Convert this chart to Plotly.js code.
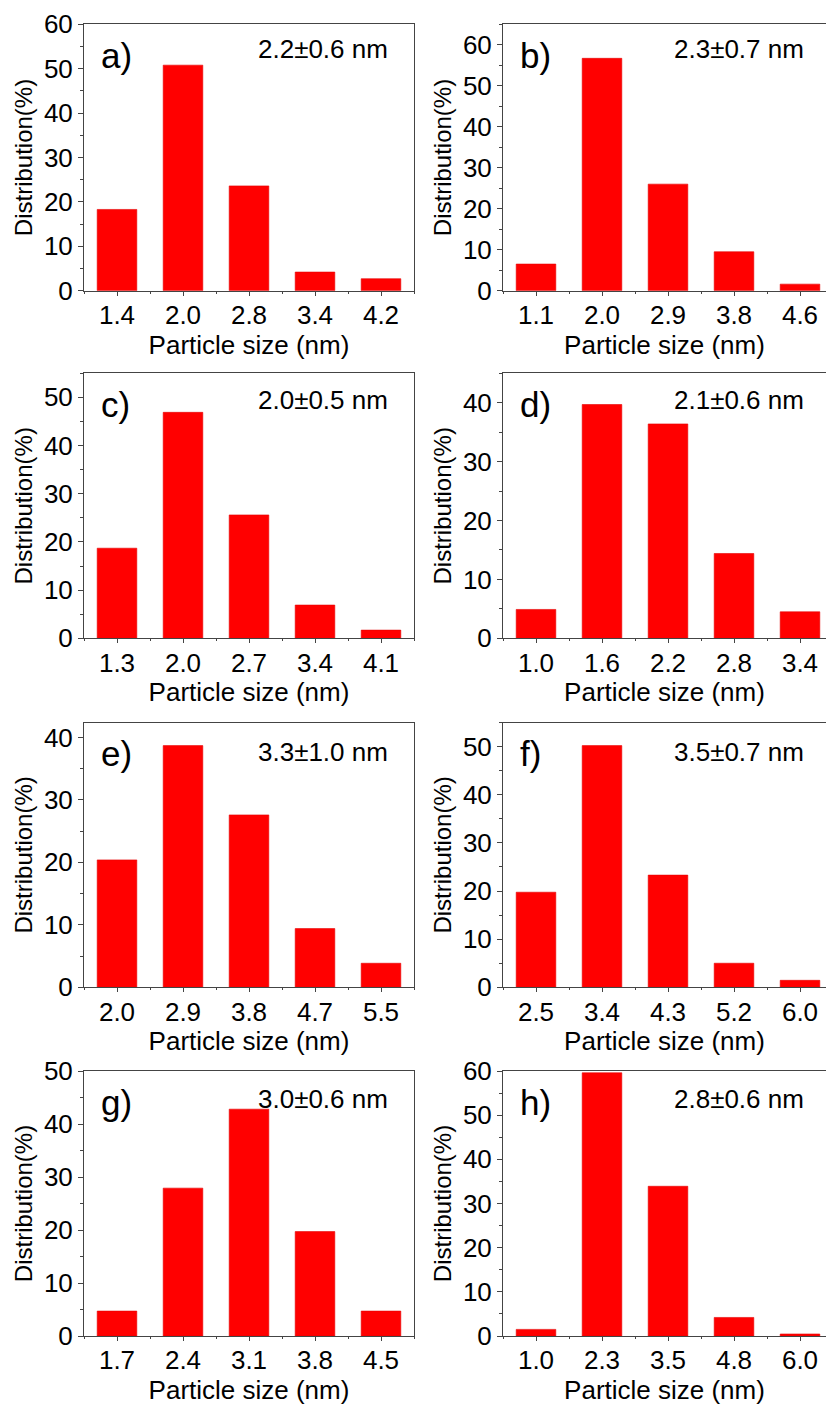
<!DOCTYPE html>
<html>
<head>
<meta charset="utf-8">
<script src="https://cdn.plot.ly/plotly-3.0.1.min.js"></script>
<style>html,body{margin:0;padding:0;background:#fff;}#chart{width:826px;height:1407px;}</style>
</head>
<body>
<div id="chart"></div>
<script>
// ---- data ----
const catsA = ['1.4','2.0','2.8','3.4','4.2'];
const valsA = [18.3, 50.8, 23.6, 4.2, 2.7];
const catsB = ['1.1','2.0','2.9','3.8','4.6'];
const valsB = [6.5, 56.7, 26.0, 9.5, 1.6];
const catsC = ['1.3','2.0','2.7','3.4','4.1'];
const valsC = [18.7, 46.9, 25.6, 6.9, 1.7];
const catsD = ['1.0','1.6','2.2','2.8','3.4'];
const valsD = [4.9, 39.7, 36.4, 14.4, 4.5];
const catsE = ['2.0','2.9','3.8','4.7','5.5'];
const valsE = [20.4, 38.7, 27.6, 9.4, 3.85];
const catsF = ['2.5','3.4','4.3','5.2','6.0'];
const valsF = [19.75, 50.2, 23.3, 5.0, 1.45];
const catsG = ['1.7','2.4','3.1','3.8','4.5'];
const valsG = [4.7, 27.9, 42.8, 19.7, 4.7];
const catsH = ['1.0','2.3','3.5','4.8','6.0'];
const valsH = [1.5, 59.6, 33.9, 4.2, 0.45];

const panelLabels = ['a)','b)','c)','d)','e)','f)','g)','h)'];
const sizeLabels = ['2.2\u00B10.6 nm','2.3\u00B10.7 nm','2.0\u00B10.5 nm','2.1\u00B10.6 nm',
                    '3.3\u00B11.0 nm','3.5\u00B10.7 nm','3.0\u00B10.6 nm','2.8\u00B10.6 nm'];
const yMax = [60, 65, 55, 45, 42.4, 55, 50, 60];
const xTitle = 'Particle size (nm)';
const yTitle = 'Distribution(%)';

const panels = [
  [catsA, valsA], [catsB, valsB], [catsC, valsC], [catsD, valsD],
  [catsE, valsE], [catsF, valsF], [catsG, valsG], [catsH, valsH]
];

// ---- layout geometry (pixels) ----
const W = 826, H = 1407;
const cols = [[84, 414], [503, 826]];
const rows = [[24.3, 290.7], [373.3, 638.3], [722.5, 987.3], [1071, 1336]];
const valOffset = [24.5, 24.5, 26.7, 26.7, 29.2, 29.4, 27.7, 28];

const FONT = 'Liberation Sans, Arial, sans-serif';
const AX = '#444';

const traces = [];
const layout = {
  width: W, height: H,
  margin: {l: 0, r: 0, t: 0, b: 0},
  paper_bgcolor: '#fff', plot_bgcolor: '#fff',
  showlegend: false,
  font: {family: FONT, color: '#000'},
  annotations: []
};

panels.forEach((p, i) => {
  const [cats, vals] = p;
  const n = i + 1;
  const col = i % 2, row = Math.floor(i / 2);
  const [x0, x1] = cols[col];
  const [y0, y1] = rows[row];
  const idx = cats.map((_, k) => k);
  const xs = n === 1 ? '' : String(n);
  const slotPx = 66;
  const xRange = col === 0 ? [-0.5, 4.5] : [-0.5, -0.5 + (x1 - x0) / slotPx];

  traces.push({
    type: 'bar', x: idx, y: vals,
    xaxis: 'x' + xs, yaxis: 'y' + xs,
    width: 0.6,
    marker: {color: '#ff0000', line: {color: '#e60000', width: 0.6}},
    hoverinfo: 'skip'
  });

  layout['xaxis' + xs] = {
    domain: [x0 / W, x1 / W],
    anchor: 'y' + xs,
    range: xRange,
    tickmode: 'array', tickvals: idx, ticktext: cats,
    ticks: 'outside', ticklen: 4, tickwidth: 1, tickcolor: AX,
    ticklabelstandoff: -3,
    minor: {tickmode: 'linear', tick0: 0.5, dtick: 1, ticks: 'outside', ticklen: 2, tickcolor: AX},
    showline: true, linecolor: AX, linewidth: 1, mirror: true,
    showgrid: false, zeroline: false,
    tickfont: {size: 26, family: FONT, color: '#000'},
    title: {text: xTitle, font: {size: 26, family: FONT, color: '#000'}, standoff: 6},
    automargin: false, fixedrange: true
  };
  layout['yaxis' + xs] = {
    domain: [1 - y1 / H, 1 - y0 / H],
    anchor: 'x' + xs,
    range: [0, yMax[i]],
    tickmode: 'linear', tick0: 0, dtick: 10,
    ticks: 'outside', ticklen: 5, tickwidth: 1, tickcolor: AX,
    minor: {tickmode: 'linear', tick0: 5, dtick: 10, ticks: 'outside', ticklen: 3, tickcolor: AX},
    showline: true, linecolor: AX, linewidth: 1, mirror: col === 0,
    showgrid: false, zeroline: false,
    tickfont: {size: 26, family: FONT, color: '#000'},
    title: {text: yTitle, font: {size: 24, family: FONT, color: '#000'}, standoff: 4},
    automargin: false, fixedrange: true
  };

  const wpx = x1 - x0, hpx = y1 - y0;
  layout.annotations.push({
    xref: 'x' + xs + ' domain', yref: 'y' + xs + ' domain',
    x: 15 / wpx, y: 1 - 31 / hpx, xanchor: 'left', yanchor: 'middle',
    text: panelLabels[i], showarrow: false,
    font: {size: 35, family: FONT, color: '#000'}
  });
  const rightPx = col === 0 ? 390 - x0 : 806 - x0;
  layout.annotations.push({
    xref: 'x' + xs + ' domain', yref: 'y' + xs + ' domain',
    x: rightPx / wpx, y: 1 - valOffset[i] / hpx, xanchor: 'right', yanchor: 'middle',
    text: sizeLabels[i], showarrow: false,
    font: {size: 26, family: FONT, color: '#000'}
  });
});

Plotly.newPlot('chart', traces, layout, {displayModeBar: false, staticPlot: true});
</script>
</body>
</html>
